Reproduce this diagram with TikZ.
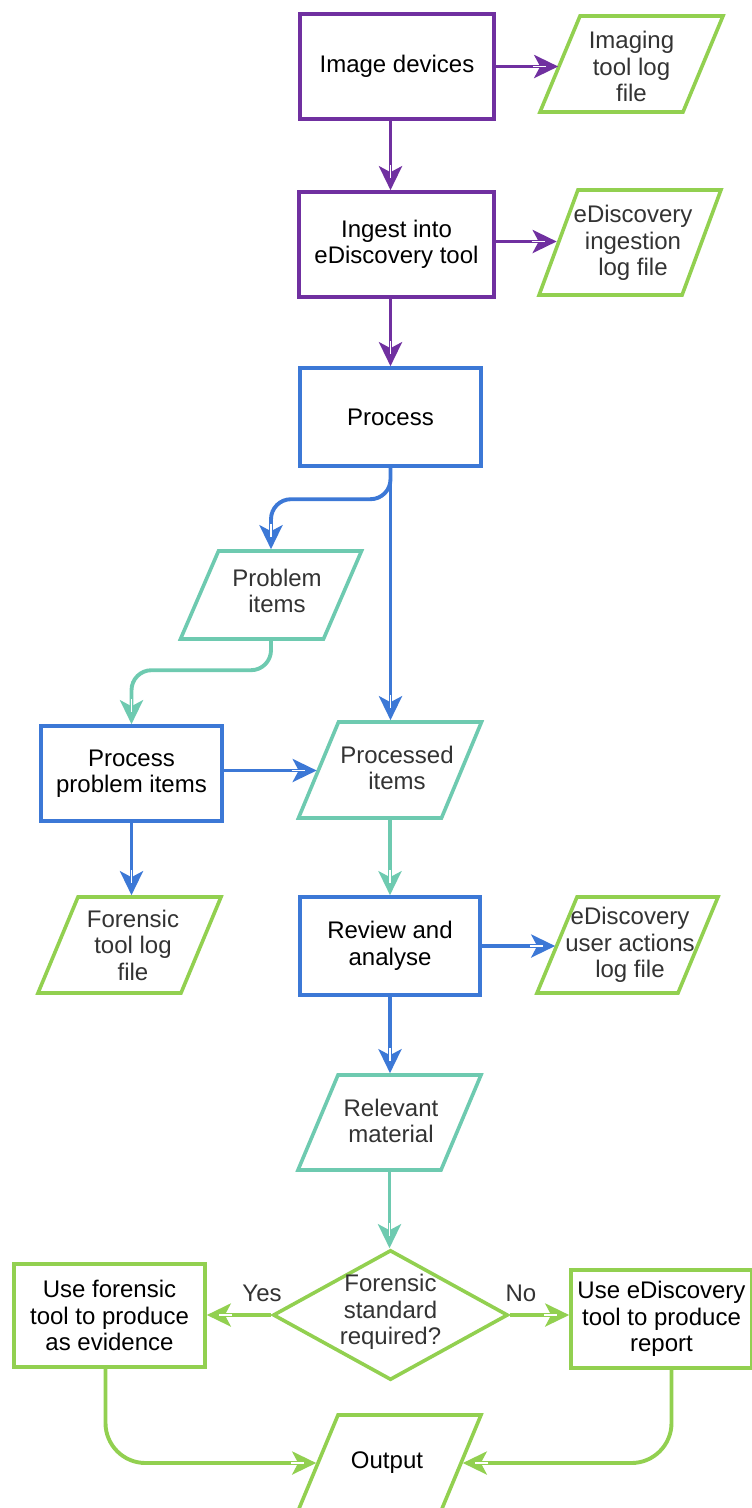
\documentclass[tikz,border=0pt]{standalone}
\usepackage{fontspec}
\setmainfont{Liberation Sans}
\usetikzlibrary{arrows.meta,shapes.geometric,decorations.markings}

\definecolor{cpurple}{RGB}{112,48,160}
\definecolor{cblue}{RGB}{60,120,214}
\definecolor{cteal}{RGB}{110,202,176}
\definecolor{cgreen}{RGB}{146,208,80}
\definecolor{ctext}{RGB}{51,51,51}

\tikzset{
  base/.style={line width=3.6pt, inner sep=0pt,
    font=\fontsize{24}{26.5}\selectfont, align=center},
  procbox/.style={base, draw, rectangle, fill=white, text=black},
  % slanted rectangle: the top edge is shifted right of the bottom edge
  databox/.style={base, draw, rectangle, xslant=#1, transform shape,
    minimum width=143pt, minimum height=96pt, fill=white},
  databox/.default=0.4167,
  txt/.style={font=\fontsize{24}{26.5}\selectfont, align=center, text=ctext, inner sep=0pt},
  decbox/.style={base, draw, diamond, minimum width=235pt, minimum height=130pt},
  % arrow head with a thin white stripe running into it from the shaft
  flow/.style={line width=3.9pt, rounded corners=20pt,
    -{Stealth[length=24pt,width=23pt,inset=6pt]},
    postaction={decorate, decoration={markings,
      mark=at position -0.2pt with {\draw[white, line width=1.6pt, -] (-25pt,0pt) -- (-12pt,0pt);}}}},
}

\begin{document}
\begin{tikzpicture}[x=1pt,y=-1pt]
\useasboundingbox (0,0) rectangle (752,1508);

% process boxes
\node[procbox, draw=cpurple, minimum width=194pt, minimum height=105pt] (img) at (397,66.5) {Image devices};
\node[procbox, draw=cpurple, minimum width=195pt, minimum height=105pt] (ingest) at (396.5,244.5) {Ingest into\\eDiscovery tool};
\node[procbox, draw=cblue, minimum width=181pt, minimum height=98pt] (proc) at (390.5,417) {Process};
\node[procbox, draw=cblue, minimum width=181pt, minimum height=95pt] (ppi) at (131.5,773.5) {Process\\problem items};
\node[procbox, draw=cblue, minimum width=180pt, minimum height=98pt] (review) at (390,946) {Review and\\analyse};
\node[procbox, draw=cgreen, minimum width=191pt, minimum height=103pt] (usef) at (109.5,1315.5) {Use forensic\\tool to produce\\as evidence};
\node[procbox, draw=cgreen, minimum width=181pt, minimum height=98pt] (usee) at (661.5,1319) {Use eDiscovery\\tool to produce\\report};

% data (parallelogram) boxes and their texts
\node[databox, draw=cgreen] (imlog) at (631.5,64) {};
\node[txt] (imlog-t) at (631.5,66.5) {Imaging\\tool log\\file};
\node[databox=0.37, draw=cgreen, minimum height=105pt] (inglog) at (630,242.5) {};
\node[txt] (inglog-t) at (633,243) {eDiscovery\\ingestion\\log file};
\node[databox=0.4318, draw=cteal, minimum height=88pt] (prob) at (271,595) {};
\node[txt] (prob-t) at (277,591) {Problem\\items};
\node[databox, draw=cteal] (procd) at (390,770) {};
\node[txt] (procd-t) at (397,768) {Processed\\items};
\node[databox, draw=cgreen] (forlog) at (129.5,945) {};
\node[txt] (forlog-t) at (133,945) {Forensic\\tool log\\file};
\node[databox, draw=cgreen, minimum width=141pt] (ualog) at (627.5,945) {};
\node[txt] (ualog-t) at (630,945) {eDiscovery\\user actions\\log file};
\node[databox=0.421, draw=cteal, minimum height=95pt] (rel) at (389.5,1122.5) {};
\node[txt] (rel-t) at (391,1121) {Relevant\\material};
\node[databox, draw=cgreen] (out) at (389.5,1463) {};
\node[txt, text=black] (out-t) at (387,1463) {Output};

% decision
\node[decbox, draw=cgreen] (dec) at (390.5,1315) {};
\node[txt] (dec-t) at (390.5,1312) {Forensic\\standard\\required?};

% connectors
\draw[flow, cpurple] (img.east) -- (img.east -| imlog.west);
\draw[flow, cpurple] (img.south -| proc) -- (ingest.north -| proc);
\draw[flow, cpurple] ([yshift=3pt]ingest.east) -- ([yshift=3pt]ingest.east -| inglog.west);
\draw[flow, cpurple] (ingest.south -| proc) -- (proc.north);

\draw[flow, cblue] (proc.south) |- ([yshift=50pt]prob.north -| prob) -- (prob.north -| prob);
\draw[flow, cblue] (proc.south) -- (proc.south |- procd.north);
\draw[flow, cteal] (prob.south -| prob) |- ([yshift=54pt]ppi.north) -- (ppi.north);
\draw[flow, cblue] ([yshift=3pt]ppi.east) -- ([yshift=3pt]ppi.east -| procd.west);
\draw[flow, cblue] (ppi.south) -- (ppi.south |- forlog.north);

\draw[flow, cteal] (procd.south -| procd) -- (review.north -| procd);
\draw[flow, cblue] (review.east) -- (review.east -| ualog.west);
\draw[flow, cblue] (review.south) -- (review.south |- rel.north);
\draw[flow, cteal] (rel.south -| rel) -- (dec.north -| rel);

\draw[flow, cgreen] (dec.west) -- (dec.west -| usef.east);
\node[txt] (yes) at (262,1293) {Yes};
\draw[flow, cgreen] (dec.east) -- (dec.east -| usee.west);
\node[txt] (no) at (521,1293) {No};

\draw[flow, cgreen, rounded corners=40pt] ([xshift=-4pt]usef.south) |- (out.west);
\draw[flow, cgreen, rounded corners=40pt] ([xshift=10pt]usee.south) |- (out.east);
\end{tikzpicture}
\end{document}
